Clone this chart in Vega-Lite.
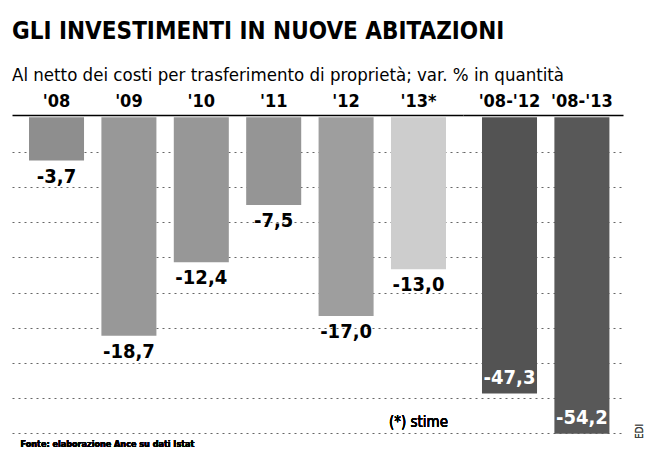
{
  "$schema": "https://vega.github.io/schema/vega-lite/v6.json",
  "padding": {"left": 12, "top": 19, "right": 5, "bottom": 0},
  "background": "#ffffff",
  "config": {
    "locale": {"number": {"decimal": ",", "thousands": ".", "grouping": [3], "currency": ["€", ""], "minus": "-"}},
    "view": {"stroke": null},
    "font": "DejaVu Sans Condensed",
    "concat": {"spacing": 0}
  },
  "title": {
    "text": "GLI INVESTIMENTI IN NUOVE ABITAZIONI",
    "subtitle": "Al netto dei costi per trasferimento di proprietà; var. % in quantità",
    "anchor": "start",
    "frame": "group",
    "font": "DejaVu Sans Condensed",
    "fontSize": 24,
    "fontWeight": "bold",
    "color": "#000000",
    "subtitleFont": "DejaVu Sans Condensed",
    "subtitleFontSize": 18.5,
    "subtitleColor": "#000000",
    "subtitlePadding": 22,
    "offset": 8
  },
  "datasets": {
    "anni": [
      {"periodo": "'08", "valore": -3.7},
      {"periodo": "'09", "valore": -18.7},
      {"periodo": "'10", "valore": -12.4},
      {"periodo": "'11", "valore": -7.5},
      {"periodo": "'12", "valore": -17.0},
      {"periodo": "'13*", "valore": -13.0}
    ],
    "cumulati": [
      {"periodo": "'08-'12", "valore": -47.3},
      {"periodo": "'08-'13", "valore": -54.2}
    ]
  },
  "hconcat": [
    {
      "width": 451,
      "height": 320,
      "data": {"name": "anni"},
      "layer": [
        {
          "mark": {"type": "bar"},
          "encoding": {
            "x": {
              "field": "periodo", "type": "nominal", "sort": null,
              "scale": {"paddingInner": 0.24, "paddingOuter": 0.235},
              "axis": {"orient": "top", "title": null, "labelAngle": 0, "labelFontSize": 18, "labelFontWeight": "bold", "labelColor": "#000000", "ticks": false, "domainColor": "#000000", "domainWidth": 1.5, "labelPadding": 5}
            },
            "y": {
              "field": "valore", "type": "quantitative",
              "scale": {"domain": [-27.2, 0.2], "nice": false, "zero": false},
              "axis": {"values": [-3, -6, -9, -12, -15, -18, -21, -24, -27], "tickCount": 30, "grid": true, "gridDash": [2, 4], "gridColor": "#666666", "gridWidth": 1, "domain": false, "ticks": false, "labels": false, "title": null}
            },
            "color": {
              "field": "periodo", "type": "nominal", "legend": null,
              "scale": {"domain": ["'08", "'09", "'10", "'11", "'12", "'13*"], "range": ["#8e8e8e", "#989898", "#979797", "#959595", "#9e9e9e", "#cdcdcd"]}
            }
          }
        },
        {
          "mark": {"type": "text", "baseline": "top", "dy": 6, "fontSize": 20, "fontWeight": "bold", "color": "#000000"},
          "encoding": {
            "x": {"field": "periodo", "type": "nominal", "sort": null},
            "y": {"field": "valore", "type": "quantitative"},
            "text": {"field": "valore", "type": "quantitative", "format": ".1f"}
          }
        },
        {
          "mark": {"type": "text", "fontSize": 15, "color": "#000000", "baseline": "middle"},
          "encoding": {
            "x": {"datum": "'13*", "type": "nominal"},
            "y": {"datum": -26.1, "type": "quantitative"},
            "text": {"value": "(*) stime"}
          }
        },
        {
          "mark": {"type": "text", "fontSize": 9, "fontWeight": "bold", "color": "#000000", "align": "left", "baseline": "middle", "dx": -36},
          "encoding": {
            "x": {"datum": "'08", "type": "nominal"},
            "y": {"datum": -28.0, "type": "quantitative"},
            "text": {"value": "Fonte: elaborazione Ance su dati Istat"}
          }
        }
      ]
    },
    {
      "width": 160,
      "height": 320,
      "data": {"name": "cumulati"},
      "layer": [
        {
          "mark": {"type": "bar"},
          "encoding": {
            "x": {
              "field": "periodo", "type": "nominal", "sort": null,
              "scale": {"paddingInner": 0.24, "paddingOuter": 0.225, "align": 0.583},
              "axis": {"orient": "top", "title": null, "labelAngle": 0, "labelFontSize": 18, "labelFontWeight": "bold", "labelColor": "#000000", "ticks": false, "domainColor": "#000000", "domainWidth": 1.5, "labelPadding": 5}
            },
            "y": {
              "field": "valore", "type": "quantitative",
              "scale": {"domain": [-54.4, 0.4], "nice": false, "zero": false},
              "axis": {"values": [-6, -12, -18, -24, -30, -36, -42, -48, -54], "tickCount": 30, "grid": true, "gridDash": [2, 4], "gridColor": "#666666", "gridWidth": 1, "domain": false, "ticks": false, "labels": false, "title": null}
            },
            "color": {
              "field": "periodo", "type": "nominal", "legend": null,
              "scale": {"domain": ["'08-'12", "'08-'13"], "range": ["#535353", "#585858"]}
            }
          }
        },
        {
          "mark": {"type": "text", "baseline": "bottom", "dy": -6, "fontSize": 20, "fontWeight": "bold", "color": "#ffffff"},
          "encoding": {
            "x": {"field": "periodo", "type": "nominal", "sort": null},
            "y": {"field": "valore", "type": "quantitative"},
            "text": {"field": "valore", "type": "quantitative", "format": ".1f"}
          }
        },
        {
          "mark": {"type": "text", "fontSize": 10, "color": "#444444", "angle": 270, "baseline": "middle", "align": "center", "dy": 58},
          "encoding": {
            "x": {"datum": "'08-'13", "type": "nominal"},
            "y": {"datum": -53.8, "type": "quantitative"},
            "text": {"value": "EDI"}
          }
        }
      ]
    }
  ],
  "resolve": {"scale": {"y": "independent", "x": "independent", "color": "independent"}}
}
